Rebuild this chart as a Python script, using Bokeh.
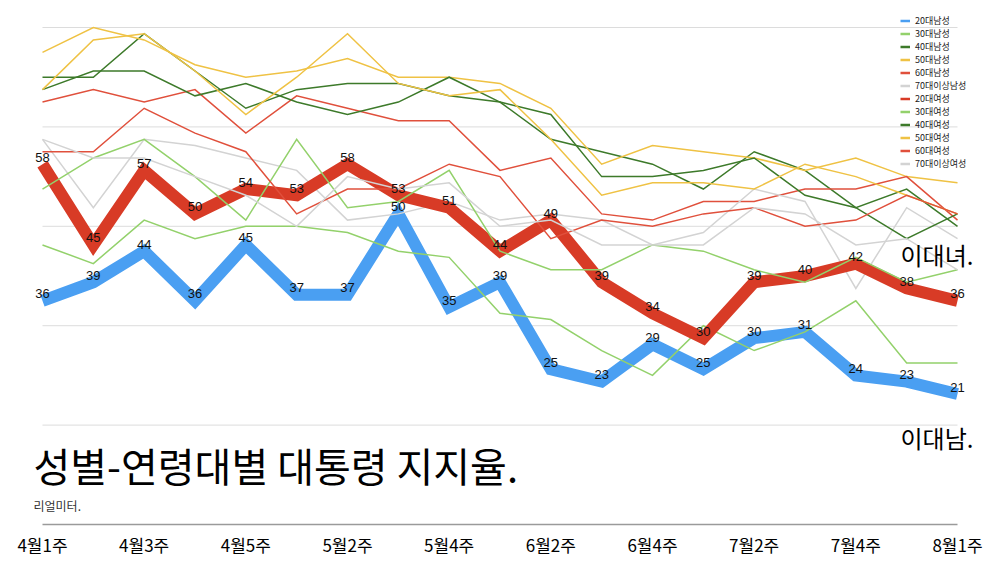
from bokeh.plotting import figure
from bokeh.models import Range1d, FixedTicker, Label, Legend, LegendItem
from bokeh.embed import file_html
from bokeh.resources import INLINE
from bokeh.core.properties import value

# ---------------- data ----------------
weeks = ["4월1주", "4월2주", "4월3주", "4월4주", "4월5주", "5월1주", "5월2주",
         "5월3주", "5월4주", "6월1주", "6월2주", "6월3주", "6월4주", "7월1주",
         "7월2주", "7월3주", "7월4주", "7월5주", "8월1주"]
x_idx = list(range(len(weeks)))
tick_idx = x_idx[::2]
tick_labels = weeks[::2]
grid_levels = [16, 32, 48, 64, 80]

m20 = [36, 39, 44, 36, 45, 37, 37, 50, 35, 39, 25, 23, 29, 25, 30, 31, 24, 23, 21]
m30 = [45, 42, 49, 46, 48, 48, 47, 44, 43, 34, 33, 28, 24, 32, 28, 31, 36, 26, 26]
m40 = [72, 72, 79, 73, 67, 70, 71, 71, 69, 68, 62, 60, 58, 54, 60, 57, 51, 54, 48]
m50 = [76, 80, 78, 74, 72, 73, 75, 72, 72, 71, 67, 58, 61, 60, 59, 57, 59, 56, 55]
m60 = [68, 70, 68, 70, 63, 69, 67, 65, 65, 57, 59, 50, 49, 52, 52, 54, 54, 56, 49]
m70 = [62, 51, 62, 61, 59, 57, 49, 50, 52, 49, 50, 49, 45, 47, 54, 52, 38, 51, 46]
f20 = [58, 45, 57, 50, 54, 53, 58, 53, 51, 44, 49, 39, 34, 30, 39, 40, 42, 38, 36]
f30 = [54, 59, 62, 56, 49, 62, 51, 52, 57, 44, 41, 41, 45, 44, 41, 39, 43, 39, 41]
f40 = [70, 73, 73, 69, 71, 68, 66, 68, 72, 68, 66, 56, 56, 57, 59, 53, 51, 46, 50]
f50 = [70, 78, 79, 73, 66, 72, 79, 71, 69, 70, 62, 53, 55, 55, 54, 58, 56, 53, 50]
f60 = [60, 60, 67, 63, 60, 50, 54, 54, 58, 56, 46, 49, 48, 50, 51, 48, 49, 53, 50]
f70 = [62, 59, 59, 56, 53, 48, 56, 54, 55, 48, 49, 45, 45, 45, 51, 50, 45, 46, 41]

names = ["20대남성", "30대남성", "40대남성", "50대남성", "60대남성", "70대이상남성",
         "20대여성", "30대여성", "40대여성", "50대여성", "60대여성", "70대이상여성"]
values = [m20, m30, m40, m50, m60, m70, f20, f30, f40, f50, f60, f70]

title_text = "성별-연령대별 대통령 지지율."
source_text = "리얼미터."
tag_f = "이대녀."
tag_m = "이대남."

# ---------------- style ----------------
BLUE = "#4a9ff2"
RED_THICK = "#d83b26"
RED = "#e0503c"
LGREEN = "#93d16b"
DGREEN = "#3d7a2a"
YELLOW = "#efc244"
GRAY = "#d3d3d3"
colors = [BLUE, LGREEN, DGREEN, YELLOW, RED, GRAY,
          RED_THICK, LGREEN, DGREEN, YELLOW, RED, GRAY]
widths = [12, 1.5, 1.5, 1.5, 1.5, 1.5, 12, 1.5, 1.5, 1.5, 1.5, 1.5]

KFONT = "Noto Sans CJK KR"

p = figure(frame_width=980, frame_height=516, output_backend="svg",
           toolbar_location=None,
           x_range=Range1d(-0.6295, 18.649), y_range=Range1d(0, 83.06),
           y_axis_location=None, min_border_left=10, min_border_right=10,
           min_border_top=8, min_border_bottom=0)
p.outline_line_color = None
p.xgrid.visible = False
p.ygrid.visible = False
p.background_fill_color = "white"
p.border_fill_color = "white"

# horizontal gridlines spanning the data extent
p.segment(x0=[x_idx[0]] * len(grid_levels), x1=[x_idx[-1]] * len(grid_levels),
          y0=grid_levels, y1=grid_levels, line_color="#dcdcdc", line_width=1)

# series lines
for name, vals, c, w in zip(names, values, colors, widths):
    p.line(x=x_idx, y=vals, line_color=c, line_width=w, line_join="miter")

# data labels for the two highlighted series
for vals in (m20, f20):
    p.text(x=x_idx, y=vals, text=[str(v) for v in vals], text_align="center",
           text_baseline="middle", y_offset=-7, text_font=value("Liberation Sans"),
           text_font_size="13px", text_color="#111111")

# x axis
ax = p.xaxis[0]
ax.bounds = (x_idx[0], x_idx[-1])
ax.ticker = FixedTicker(ticks=tick_idx)
ax.major_label_overrides = {i: lab for i, lab in zip(tick_idx, tick_labels)}
ax.major_tick_line_color = None
ax.minor_tick_line_color = None
ax.axis_line_color = "#9a9a9a"
ax.axis_line_width = 1.5
ax.major_label_standoff = 1
ax.major_label_text_font = KFONT
ax.major_label_text_font_size = "17px"
ax.major_label_text_color = "#000000"

# legend: thin one-point proxy glyphs (draw nothing in the plot, only a legend swatch)
items = []
for name, vals, c in zip(names, values, colors):
    proxy = p.line(x=x_idx[:1], y=vals[:1], line_color=c, line_width=2.5)
    items.append(LegendItem(label=name, renderers=[proxy]))
legend = Legend(items=items, location=(890, 354), orientation="vertical",
                glyph_width=10, glyph_height=13, label_height=13, spacing=0,
                padding=0, margin=0, label_standoff=5,
                label_text_font=KFONT, label_text_font_size="9px",
                label_text_color="#222222", border_line_color=None,
                background_fill_alpha=0)
p.add_layout(legend)

# text annotations
p.add_layout(Label(x=23, y=60, x_units="screen", y_units="screen", text=title_text,
                   text_font=KFONT, text_font_size="40px", text_baseline="middle",
                   text_color="#000000"))
p.add_layout(Label(x=23, y=19, x_units="screen", y_units="screen", text=source_text,
                   text_font=KFONT, text_font_size="12px", text_baseline="middle",
                   text_color="#333333"))
p.add_layout(Label(x=890, y=270, x_units="screen", y_units="screen", text=tag_f,
                   text_font=KFONT, text_font_size="24px", text_baseline="middle",
                   text_color="#000000"))
p.add_layout(Label(x=890, y=87, x_units="screen", y_units="screen", text=tag_m,
                   text_font=KFONT, text_font_size="24px", text_baseline="middle",
                   text_color="#000000"))

open("out.html", "w").write(file_html(p, INLINE))
